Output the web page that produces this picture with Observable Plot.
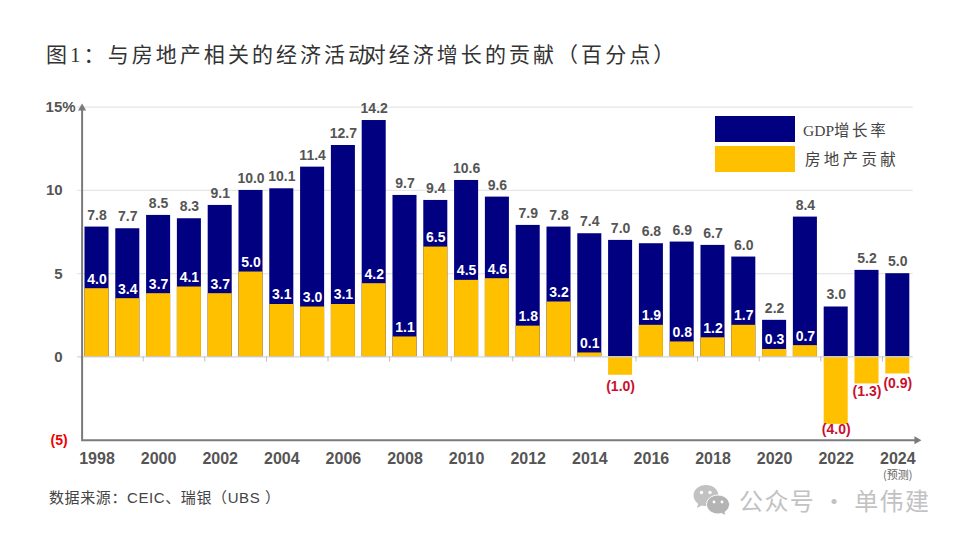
<!DOCTYPE html>
<html lang="zh">
<head>
<meta charset="utf-8">
<script src="https://cdn.jsdelivr.net/npm/d3@7"></script>
<script src="https://cdn.jsdelivr.net/npm/@observablehq/plot@0.6"></script>
<style>
html,body{margin:0;padding:0;background:#fff;width:960px;height:540px;overflow:hidden;position:relative}
#title{height:90px;box-sizing:border-box;padding:41px 0 0 46px;font:400 21px/28px "Liberation Serif","Noto Sans CJK SC",sans-serif;letter-spacing:3.05px;color:#333;white-space:nowrap}
#title .tight{letter-spacing:-4.5px}
#chart svg{display:block}
#source{position:absolute;left:49px;top:488px;font:400 15px/20px "Liberation Sans","Noto Sans CJK SC",sans-serif;letter-spacing:.6px;color:#444;white-space:nowrap}
.lg{position:absolute;left:714.5px;width:80px;height:26px}
.lt{position:absolute;font:400 15.5px/20px "Liberation Serif","Noto Sans CJK SC",serif;color:#444;white-space:nowrap}
#wm{position:absolute;left:739px;top:484px;font:400 24px/32px "Noto Sans CJK SC",sans-serif;letter-spacing:1.4px;color:#c2c2c2;white-space:nowrap}
#icon{position:absolute;left:692px;top:483px}
</style>
</head>
<body>
<div id="title">图1：与房地产相关的经济活<span class="tight">动</span>对经济增长的贡献（百分点）</div>
<div id="chart"></div>
<div class="lg" style="top:115.5px;background:#000080"></div>
<div class="lg" style="top:145.5px;background:#FFC000"></div>
<div class="lt" style="left:803px;top:121px">GDP<span style="letter-spacing:2.6px">增长率</span></div>
<div class="lt" style="left:805px;top:150px;letter-spacing:3.3px">房地产贡献</div>
<div id="source">数据来源：CEIC、瑞银（UBS ）</div>
<svg id="icon" width="40" height="36" viewBox="0 0 40 36">
  <path d="M14 2C7 2 1.5 6.6 1.5 12.5c0 3.3 1.8 6.2 4.6 8.2L5 25l5-2.6c1.3.4 2.6.6 4 .6 7 0 12.5-4.7 12.5-10.5S21 2 14 2z" fill="#c2c2c2"/>
  <path d="M26 12c-6.400 0-11.500 4.300-11.500 9.500S19.600 31 26 31c1.300 0 2.500-.2 3.600-.5l4.400 2.300-1-3.800c2.700-1.700 4.500-4.400 4.500-7.500C37.500 16.300 32.400 12 26 12z" fill="#b4b4b4" stroke="#fff" stroke-width="1"/>
  <circle cx="9.500" cy="9.500" r="1.700" fill="#fff"/><circle cx="18" cy="9.500" r="1.700" fill="#fff"/>
  <circle cx="22" cy="19" r="1.400" fill="#fff"/><circle cx="30" cy="19" r="1.400" fill="#fff"/>
</svg>
<div id="wm">公众号 · 单伟建</div>
<script>
const years = d3.range(1998, 2025);
const gdpGrowth = [7.8,7.7,8.5,8.3,9.1,10.0,10.1,11.4,12.7,14.2,9.7,9.4,10.6,9.6,7.9,7.8,7.4,7.0,6.8,6.9,6.7,6.0,2.2,8.4,3.0,5.2,5.0];
// contribution as printed on the labels
const propertyLabel = [4.0,3.4,3.7,4.1,3.7,5.0,3.1,3.0,3.1,4.2,1.1,6.5,4.5,4.6,1.8,3.2,0.1,-1.0,1.9,0.8,1.2,1.7,0.3,0.7,-4.0,-1.3,-0.9];
// contribution as drawn by the bars in the picture
const propertyBar = [4.1,3.5,3.8,4.2,3.8,5.1,3.15,3.0,3.15,4.4,1.2,6.6,4.6,4.7,1.85,3.3,0.24,-1.1,1.9,0.9,1.15,1.9,0.45,0.68,-4.05,-1.62,-1.02];
// where the red negative labels sit on the y scale
const negativeLabelAt = {2015:-1.75, 2022:-4.35, 2023:-2.05, 2024:-1.6};
const gridValues = [5,10,15];
const tickYears = years.filter(y => y % 2 === 0 && y > 1998);
const labelYears = years.filter(y => y % 2 === 0);

const rows = years.map((year,i) => ({year, gdp:gdpGrowth[i], bar:propertyBar[i], label:propertyLabel[i]}));
const pos = rows.filter(d => d.label > 0);
const neg = rows.filter(d => d.label < 0);

const sans = "Liberation Sans, Arial, sans-serif";
const labelGrey = "#555";

const plot = Plot.plot({
  width:960, height:395,
  marginLeft:81.1, marginRight:47.3, marginTop:16.7, marginBottom:45.3,
  style:{background:"#fff", fontFamily:sans, overflow:"visible"},
  x:{type:"band", domain:years, paddingInner:0.22, paddingOuter:0.11, align:0.5, round:false, axis:null, label:null},
  y:{domain:[-5,15], axis:null, label:null},
  marks:[
    Plot.ruleY(gridValues,{stroke:"#e6e6e6", strokeWidth:1.2, insetLeft:-4}),
    Plot.barY(rows,{x:"year", y1:0, y2:"gdp", fill:"#000080"}),
    Plot.barY(rows,{x:"year", y1:0, y2:"bar", fill:"#FFC000"}),
    Plot.ruleY([0],{stroke:"#d4d4d4", strokeWidth:1.2, insetLeft:-4}),
    Plot.ruleX(tickYears,{x:d=>d, y1:0, y2:-0.3, dx:-15.4, stroke:"#bdbdbd", strokeWidth:1}),
    Plot.ruleX([1998],{x:d=>d, y1:-5, y2:15, dx:-14.9, stroke:"#7a7a7a", strokeWidth:2}),
    Plot.ruleY([-5],{stroke:"#7a7a7a", strokeWidth:2, insetRight:-3}),
    Plot.dot([1998],{x:d=>d, y:15, dx:-14.9, dy:1, symbol:"triangle", r:3, fill:"#7a7a7a"}),
    Plot.dot([2024],{x:d=>d, y:-5, dx:19, symbol:"triangle", r:3, fill:"#7a7a7a", rotate:90}),
    Plot.axisY([0,5,10],{tickSize:0, tickPadding:19, tickFormat:d=>String(d), label:null, fontSize:15, fontWeight:700, fill:labelGrey}),
    Plot.axisY([15],{tickSize:0, tickPadding:6, tickFormat:d=>d+"%", label:null, fontSize:15, fontWeight:700, fill:labelGrey}),
    Plot.text([-5],{y:d=>d, frameAnchor:"left", dx:-14, textAnchor:"end", text:()=>"(5)", fontSize:14, fontWeight:700, fill:"#f00000"}),
    Plot.axisX(labelYears,{tickSize:0, tickPadding:12, tickFormat:d=>String(d), label:null, fontSize:16, fontWeight:700, fill:labelGrey}),
    Plot.text([2024],{x:d=>d, y:-5, dy:35.5, text:()=>"(预测)", fontSize:11, fill:"#666", fontFamily:"Noto Sans CJK SC"}),
    Plot.text(rows,{x:"year", y:"gdp", dy:-12, text:d=>d.gdp.toFixed(1), fontSize:14, fontWeight:700, fill:labelGrey}),
    Plot.text(pos,{x:"year", y:"bar", dy:-9.5, text:d=>d.label.toFixed(1), fontSize:14, fontWeight:700, fill:"#fff"}),
    Plot.text(neg,{x:"year", y:d=>negativeLabelAt[d.year], text:d=>`(${Math.abs(d.label).toFixed(1)})`, fontSize:14, fontWeight:700, fill:"#c8102e"})
  ]
});
document.getElementById("chart").append(plot);
</script>
</body>
</html>
